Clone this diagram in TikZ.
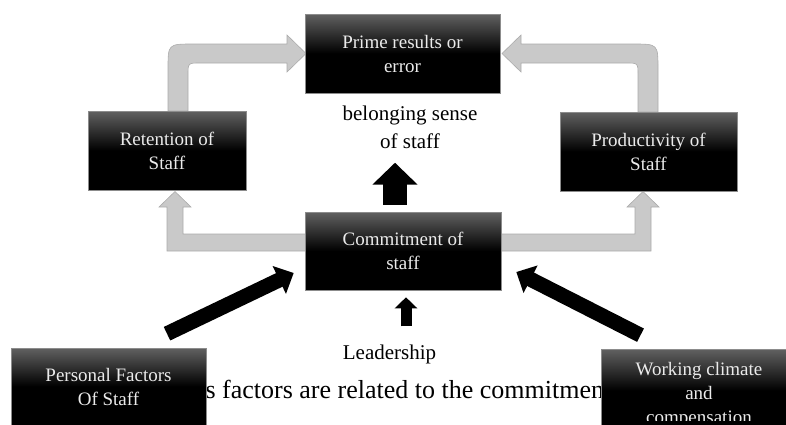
\documentclass[tikz,border=0pt]{standalone}
\usepackage{fontspec}
\setmainfont{Liberation Serif}
\usetikzlibrary{arrows.meta,calc,backgrounds}
\begin{document}
\begin{tikzpicture}[x=1pt,y=-1pt,
  box/.style={draw=black!45, line width=0.6pt, top color=black!62, bottom color=black, middle color=black,
    text=white!92!black, align=center, inner sep=0pt, font=\fontsize{19}{24}\selectfont},
  boxtext/.style={text=white!92!black, align=center, inner sep=0pt, font=\fontsize{19}{24}\selectfont},
  garrow/.style={fill=black!21, draw=black!33, line width=0.6pt},
  bigblk/.style={draw=black, line width=24pt, -{Triangle[width=44pt,length=22pt]}},
  smallblk/.style={draw=black, line width=11pt, -{Triangle[width=22pt,length=11pt]}},
  diagblk/.style={draw=black, line width=15pt, -{Triangle[width=30pt,length=16pt]}},
  lbl/.style={text=black, inner sep=0pt}]
\useasboundingbox (0,0) rectangle (786,424);
\clip (0,0) rectangle (786,424);

% partially hidden sentence
\node[lbl, font=\fontsize{26}{30}\selectfont, anchor=base west] (txt) at (222,398)
  {\llap{This }factors are related to the commitment};

% boxes
\node[box, minimum width=195pt, minimum height=79pt] (prime) at (402.5,53.5) {Prime results or\\error};
\node[box, minimum width=158pt, minimum height=79pt] (ret) at (167,150.5) {Retention of\\Staff};
\node[box, minimum width=177pt, minimum height=79pt] (prod) at (648.5,151.5) {Productivity of\\Staff};
\node[box, minimum width=196pt, minimum height=78pt] (com) at (403,251) {Commitment of\\staff};
\node[box, minimum width=195pt, minimum height=77pt] (pers) at (108.5,386.5) {Personal Factors\\Of Staff};
\node[box, minimum width=196pt, minimum height=83pt] (work) at (699,390.5) {};
\begin{scope}
  \clip (601,349) rectangle (797,420);
  \node[boxtext] (worktxt) at (699,394.5) {Working climate\\and\\compensation};
\end{scope}

% text labels
\node[lbl, font=\fontsize{21}{28}\selectfont, align=center] (bel) at (410,127) {belonging sense\\of staff};
\node[lbl, font=\fontsize{21}{26}\selectfont, anchor=base] (lead) at (389.5,359) {Leadership};

% gray block arrows (behind the boxes)
\begin{scope}[on background layer]
\path[garrow] (168,111) -- (168,69) .. controls (168,44) .. (193,44) -- (287,44) -- (287,35) -- (306,53.5)
  -- (287,72) -- (287,63) -- (200,63) .. controls (188,63) .. (188,75) -- (188,111) -- cycle;
\path[garrow] (638,112) -- (638,75) .. controls (638,63) .. (626,63) -- (521,63) -- (521,72) -- (502,53.5)
  -- (521,35) -- (521,44) -- (633,44) .. controls (658,44) .. (658,69) -- (658,112) -- cycle;
\path[garrow] (310,234) -- (183,234) -- (183,207) -- (191,207) -- (175,191.5) -- (159,207) -- (167,207)
  -- (167,251) -- (310,251) -- cycle;
\path[garrow] (496,234) -- (635,234) -- (635,207) -- (627,207) -- (643,191.5) -- (659,207) -- (651,207)
  -- (651,251) -- (496,251) -- cycle;
\end{scope}

% black block arrows
\draw[bigblk] ([xshift=-8pt,yshift=7pt]com.north) -- ++(0,-42);
\draw[smallblk] ([xshift=3pt,yshift=-36pt]com.south) -- ++(0,-29);
\draw[diagblk] ([xshift=58.5pt,yshift=14pt]pers.north) -- ([xshift=-11pt,yshift=-22pt]com.west);
\draw[diagblk] ([xshift=-58.5pt,yshift=13.5pt]work.north) -- ([xshift=15pt,yshift=-21pt]com.east);
\end{tikzpicture}
\end{document}
